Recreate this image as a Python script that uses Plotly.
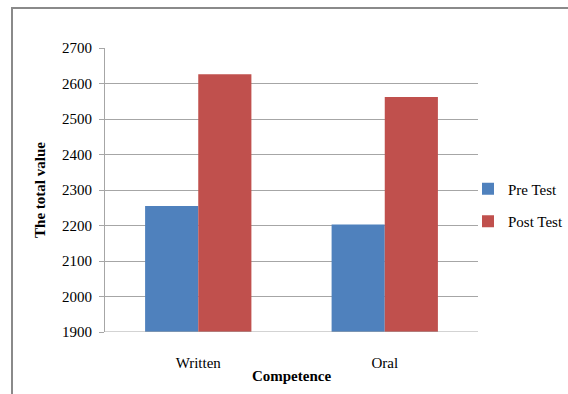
import plotly.graph_objects as go

# Competence scores before and after the intervention
categories = ["Written", "Oral"]
pre_test = [2255, 2203]
post_test = [2626, 2562]
y_ticks = [1900, 2000, 2100, 2200, 2300, 2400, 2500, 2600, 2700]

W, H = 568, 394
L, R, T, B = 105, 478, 48, 332  # plot area edges in pixels

font_family = "'Liberation Serif', 'Times New Roman', serif"
FS = 15

fig = go.Figure()
fig.add_trace(go.Bar(
    x=categories, y=pre_test, name="Pre Test",
    marker=dict(color="#4f81bd", line=dict(width=0)),
    legendgroup="pre",
))
fig.add_trace(go.Bar(
    x=categories, y=post_test, name="Post Test",
    marker=dict(color="#c0504d", line=dict(width=0)),
    legendgroup="post",
))

def px_to_paper_x(px):
    return (px - L) / (R - L)

def px_to_paper_y(py):
    return (B - py) / (B - T)

fig.update_layout(
    width=W, height=H,
    margin=dict(l=L, r=W - R, t=T, b=H - B, pad=0, autoexpand=False),
    paper_bgcolor="white",
    plot_bgcolor="white",
    barmode="group",
    bargap=0.43,
    bargroupgap=0,
    font=dict(family=font_family, size=FS, color="#000000"),
    showlegend=True,
    legend=dict(
        xref="container", yref="container",
        x=468 / W, xanchor="left",
        y=1 - 205 / H, yanchor="middle",
        font=dict(family=font_family, size=FS, color="#000000"),
        tracegroupgap=10,
        itemwidth=30,
        bgcolor="rgba(0,0,0,0)",
    ),
    xaxis=dict(
        showgrid=False,
        showline=False,
        ticks="",
        ticklabelstandoff=20,
        tickfont=dict(family=font_family, size=FS),
        title=dict(text="<b>Competence</b>", standoff=0,
                   font=dict(family=font_family, size=FS)),
    ),
    yaxis=dict(
        range=[1900, 2700],
        tickvals=y_ticks,
        ticktext=[str(v) for v in y_ticks],
        showgrid=True,
        gridcolor="#a6a6a6",
        gridwidth=1,
        showline=True,
        linecolor="#a6a6a6",
        linewidth=1,
        ticks="outside",
        ticklen=5,
        tickcolor="#a6a6a6",
        ticklabelstandoff=4,
        zeroline=False,
        tickfont=dict(family=font_family, size=FS),
        title=dict(text="<b>The total value</b>", standoff=12,
                   font=dict(family=font_family, size=FS)),
    ),
    shapes=[
        # outer chart border
        dict(type="rect", xref="paper", yref="paper",
             x0=px_to_paper_x(12), x1=px_to_paper_x(W + 10),
             y0=px_to_paper_y(H + 10), y1=px_to_paper_y(8),
             line=dict(color="#8a8a8a", width=2), fillcolor="rgba(0,0,0,0)",
             layer="below"),
        # x-axis baseline
        dict(type="line", xref="paper", yref="y",
             x0=0, x1=1, y0=1900, y1=1900,
             line=dict(color="#a6a6a6", width=1)),
    ],
)

fig.write_html("out.html")
